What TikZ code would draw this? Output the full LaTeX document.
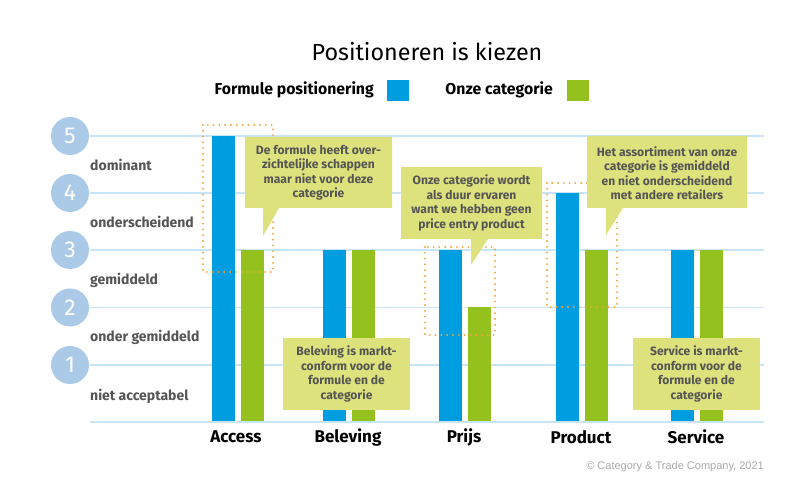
\documentclass[tikz,border=0pt]{standalone}
\usepackage{fontspec}
\setmainfont{Fira Sans}
\newfontfamily\cfont{Liberation Sans}
\definecolor{barblue}{RGB}{0,158,224}
\definecolor{bargreen}{RGB}{149,193,31}
\definecolor{callcol}{RGB}{222,226,125}
\definecolor{gridcol}{RGB}{200,228,247}
\definecolor{circcol}{RGB}{170,202,232}
\definecolor{txtgray}{RGB}{85,85,85}
\definecolor{dotorange}{RGB}{245,165,50}
\definecolor{copygray}{RGB}{170,170,170}
\begin{document}
\begin{tikzpicture}[x=1pt,y=-1pt,
  gridline/.style={draw=gridcol,line width=1.4pt},
  numcirc/.style={circle,fill=circcol,minimum size=38pt,inner sep=0pt,text=white,font=\fontsize{23}{23}\selectfont},
  axlabel/.style={anchor=west,inner sep=0pt,text=txtgray,font=\bfseries\fontsize{14}{14}\selectfont},
  catlabel/.style={inner sep=0pt,text=black,font=\bfseries\fontsize{17}{17}\selectfont},
  dotbox/.style={draw=dotorange,line width=2.1pt,dash pattern=on 0pt off 5.8pt,line cap=round},
  calltext/.style={align=center,inner sep=0pt,text=txtgray,font=\bfseries\fontsize{12.1}{14.5}\selectfont},
  legtext/.style={inner sep=0pt,text=black,font=\bfseries\fontsize{15.8}{15.8}\selectfont}]
\useasboundingbox (0,0) rectangle (804,489);
\fill[white] (0,0) rectangle (804,489);

% title and legend
\node[inner sep=0pt,font=\fontsize{23.3}{23.3}\selectfont] (title) at (427,52) {Positioneren is kiezen};
\node[legtext,anchor=east] (leg1) at (374,90) {Formule positionering};
\fill[barblue] (387,80) rectangle (409,101);
\node[legtext,anchor=east] (leg2) at (553,90) {Onze categorie};
\fill[bargreen] (567,80) rectangle (589,101);

% grid
\foreach \y in {136,193,250,307.5,365,422} \draw[gridline] (90,\y) -- (764,\y);
\foreach \n/\y in {5/136,4/193,3/250,2/307.5,1/365} \node[numcirc] (c\n) at (70,\y) {\n};

% axis labels
\node[axlabel] (l5) at (90,165) {dominant};
\node[axlabel] (l4) at (90,222) {onderscheidend};
\node[axlabel] (l3) at (90,280) {gemiddeld};
\node[axlabel] (l2) at (90,337) {onder gemiddeld};
\node[axlabel] (l1) at (90,396) {niet acceptabel};

% bars
\foreach \x/\b/\g in {212/136/250, 323/250/250, 439/250/307.5, 556/193/250, 671/250/250}{
  \fill[barblue] (\x,\b) rectangle (\x+23,421);
  \fill[bargreen] (\x+29,\g) rectangle (\x+52,421);
}

% category labels
\node[catlabel] (cat1) at (236,437) {Access};
\node[catlabel] (cat2) at (348,437) {Beleving};
\node[catlabel] (cat3) at (464,437) {Prijs};
\node[catlabel] (cat4) at (581,437) {Product};
\node[catlabel] (cat5) at (696,437) {Service};

% dotted boxes
\draw[dotbox] (203,125) rectangle (273,272);
\draw[dotbox] (425,247) rectangle (495,335);
\draw[dotbox] (547,183) rectangle (617,307);

% callouts
\fill[callcol] (245,137) -- (392,137) -- (392,208) -- (279,208) -- (263,236) -- (263,208) -- (245,208) -- cycle;
\node[calltext] (t1) at (318.5,173) {De formule heeft over-\\zichtelijke schappen\\maar niet voor deze\\categorie};

\fill[callcol] (401,167) -- (542,167) -- (542,239) -- (488,239) -- (471,265) -- (471,239) -- (401,239) -- cycle;
\node[calltext] (t2) at (471.5,203) {Onze categorie wordt\\als duur ervaren\\want we hebben geen\\price entry product};

\fill[callcol] (587,136) -- (747,136) -- (747,208) -- (623,208) -- (606,235) -- (606,208) -- (587,208) -- cycle;
\node[calltext] (t3) at (667,173) {Het assortiment van onze\\categorie is gemiddeld\\en niet onderscheidend\\met andere retailers};

\fill[callcol] (283,338) rectangle (410,410);
\node[calltext] (t4) at (346.5,374) {Beleving is markt-\\conform voor de\\formule en de\\categorie};

\fill[callcol] (633,338) rectangle (760,410);
\node[calltext] (t5) at (696.5,374) {Service is markt-\\conform voor de\\formule en de\\categorie};

% copyright
\node[anchor=east,inner sep=0pt,text=copygray,font=\cfont\fontsize{11}{11}\selectfont] (copy) at (764,467) {© Category \& Trade Company, 2021};
\end{tikzpicture}
\end{document}
